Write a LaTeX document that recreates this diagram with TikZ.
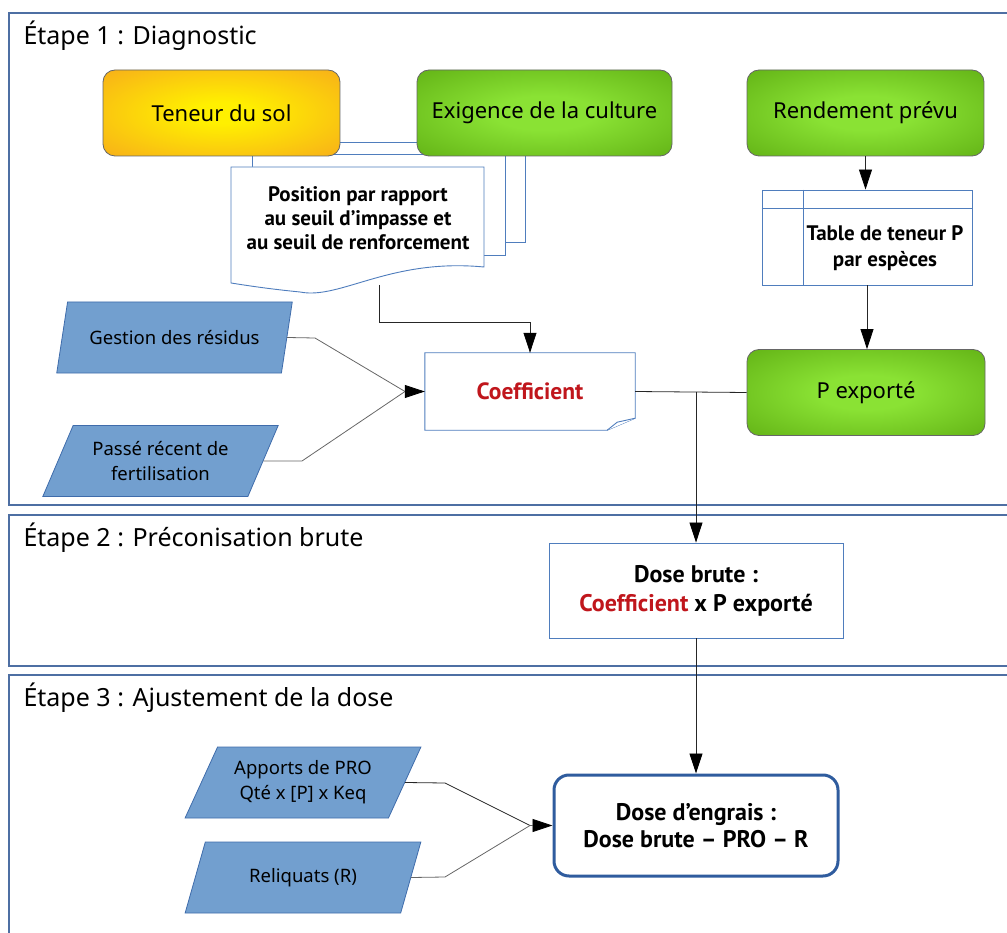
\documentclass[tikz,border=0pt]{standalone}
\usepackage{fontspec}
\setmainfont{Noto Sans}
\newfontfamily\boldsans{PT Sans}
\usetikzlibrary{arrows.meta, positioning, calc, shapes.geometric}

\definecolor{framebl}{HTML}{4E6FA3}
\definecolor{parafill}{HTML}{729FCF}
\definecolor{paradraw}{HTML}{3F6CAB}
\definecolor{docdraw}{HTML}{4F7DBD}
\definecolor{engraisdraw}{HTML}{2F5C9E}
\definecolor{greenin}{HTML}{8AE234}
\definecolor{greenout}{HTML}{4E9A06}
\definecolor{orangein}{HTML}{FFF000}
\definecolor{orangeout}{HTML}{F6A21E}
\definecolor{coefred}{HTML}{C0161C}

\pgfdeclareradialshading{greenglow}{\pgfpointorigin}{color(0bp)=(greenin); color(10bp)=(greenin); color(50bp)=(greenout); color(75bp)=(greenout)}
\pgfdeclareradialshading{orangeglow}{\pgfpointorigin}{color(0bp)=(orangein); color(6bp)=(orangein); color(42bp)=(orangeout); color(75bp)=(orangeout)}

\begin{document}
\begin{tikzpicture}[x=1pt, y=-1pt,
  stageframe/.style={draw=framebl, line width=1.1pt},
  steptitle/.style={anchor=base west, font=\fontsize{25}{29}\selectfont},
  greenbox/.style={rounded corners=12pt, shade, shading=greenglow, draw=black!60, line width=0.8pt, minimum height=86pt, font=\fontsize{22}{26}\selectfont},
  orangebox/.style={greenbox, shading=orangeglow},
  para/.style={trapezium, trapezium left angle=59, trapezium right angle=121, trapezium stretches=true, fill=parafill, draw=paradraw, line width=0.8pt, minimum width=236pt, minimum height=71pt, inner sep=0pt, align=center, font=\fontsize{18.5}{25}\selectfont},
  docline/.style={draw=docdraw, line width=0.9pt, fill=white},
  boldtxt/.style={align=center, font=\fontsize{21}{24}\selectfont\boldsans\bfseries},
  conn/.style={draw=black!85, line width=0.8pt},
  arr/.style={conn, -{Triangle[length=20pt, width=13pt, color=black]}}
]
  \useasboundingbox (0,0) rectangle (1007,933);
  \clip (0,0) rectangle (1007,933);

  % Stage frames
  \draw[stageframe] (9,13) rectangle (1030,505);
  \draw[stageframe] (9,515) rectangle (1030,666);
  \draw[stageframe] (9,675) rectangle (1030,960);
  \node[steptitle] (t1) at (20,45) {Étape 1 : Diagnostic};
  \node[steptitle] (t2) at (20,546) {Étape 2 : Préconisation brute};
  \node[steptitle] (t3) at (20,706) {Étape 3 : Ajustement de la dose};

  % Stage 1 : document stack
  \draw[docline] (272,142) rectangle (525,242);
  \draw[docline] (252,154) rectangle (505,255);
  \draw[docline] (231,167) -- (484,167) -- (484,267)
    .. controls (390,258) and (340,300) .. (300,292)
    .. controls (270,289) and (250,286) .. (231,283) -- cycle;
  \node[boldtxt] (posdoc) at (358,218) {Position par rapport\\au seuil d’impasse et\\au seuil de renforcement};
  \coordinate (posout) at (379,285);

  % Stage 1 : inputs
  \node[orangebox, minimum width=237pt] (teneur) at (221.5,113) {Teneur du sol};
  \node[greenbox, minimum width=255pt] (exigence) at (544.5,113) {Exigence de la culture};
  \node[greenbox, minimum width=237pt] (rendement) at (865.5,113) {Rendement prévu};

  \node[draw=docdraw, line width=0.9pt, minimum width=210pt, minimum height=95pt] (ptable) at (867,237.5) {};
  \draw[draw=docdraw, line width=0.9pt] ($(ptable.north west)+(0,19)$) -- ($(ptable.north east)+(0,19)$);
  \draw[draw=docdraw, line width=0.9pt] ($(ptable.north west)+(42,0)$) -- ($(ptable.south west)+(42,0)$);
  \node[boldtxt, font=\fontsize{21}{26}\selectfont\boldsans\bfseries] (ptabletxt) at (885,248) {Table de teneur P\\par espèces};

  \node[greenbox, minimum width=238pt] (pexp) at (866,392.5) {P exporté};

  \node[para] (gestion) at (174.5,337.5) {Gestion des résidus};
  \node[para] (passe) at (160.5,461) {Passé récent de\\fertilisation};

  \node[minimum width=210pt, minimum height=77pt] (coef) at (530,391.5) {};
  \draw[docline] (coef.north west) -- (coef.north east) -- ($(coef.south east)+(0,-12)$)
    -- ($(coef.south east)+(-28,0)$) -- (coef.south west) -- cycle;
  \draw[docline] ($(coef.south east)+(-28,0)$) -- ($(coef.south east)+(-18,-8)$) -- ($(coef.south east)+(0,-12)$);
  \node[font=\fontsize{23.5}{27}\selectfont\boldsans\bfseries, text=coefred] (coeftxt) at (coef) {Coefficient};

  % Stage 1 : connectors
  \draw[arr] (rendement.south) -- (rendement.south |- ptable.north);
  \draw[arr] (ptable.south) -- (ptable.south |- pexp.north);
  \draw[arr] (posout) -- ++(0,37) -| (coef.north);
  \draw[conn, draw=black!60] (gestion.east) -- (315,338) -- (405,391.5);
  \draw[arr, draw=black!60] (passe.east) -- (302,461) -- (405,391.5) -- (coef.west);
  \draw[conn] (coef.east) -- (pexp.west);

  % Stage 2
  \node[draw=docdraw, line width=0.9pt, minimum width=294pt, minimum height=95pt, boldtxt, font=\fontsize{24}{29}\selectfont\boldsans\bfseries] (dbrute) at (696,590.5) {Dose brute :\\\textcolor{coefred}{Coefficient} x P exporté};
  \draw[arr] (coef.east -| dbrute.north) -- (dbrute.north);

  % Stage 3
  \node[para] (apports) at (303,782.5) {Apports de PRO\\Qté x [P] x Keq};
  \node[para] (reliq) at (303,877.5) {Reliquats (R)};
  \node[draw=engraisdraw, line width=3pt, rounded corners=15pt, fill=white, minimum width=284pt, minimum height=101pt, boldtxt, font=\fontsize{24}{27}\selectfont\boldsans\bfseries] (dengrais) at (696,825.5) {Dose d’engrais :\\Dose brute – PRO – R};
  \draw[arr] (dbrute.south) -- (dengrais.north);
  \draw[conn] (apports.east) -- (445,783) -- (530,825.5);
  \draw[arr, draw=black!60] (reliq.east) -- (445,877) -- (530,825.5) -- (dengrais.west);

\end{tikzpicture}
\end{document}
